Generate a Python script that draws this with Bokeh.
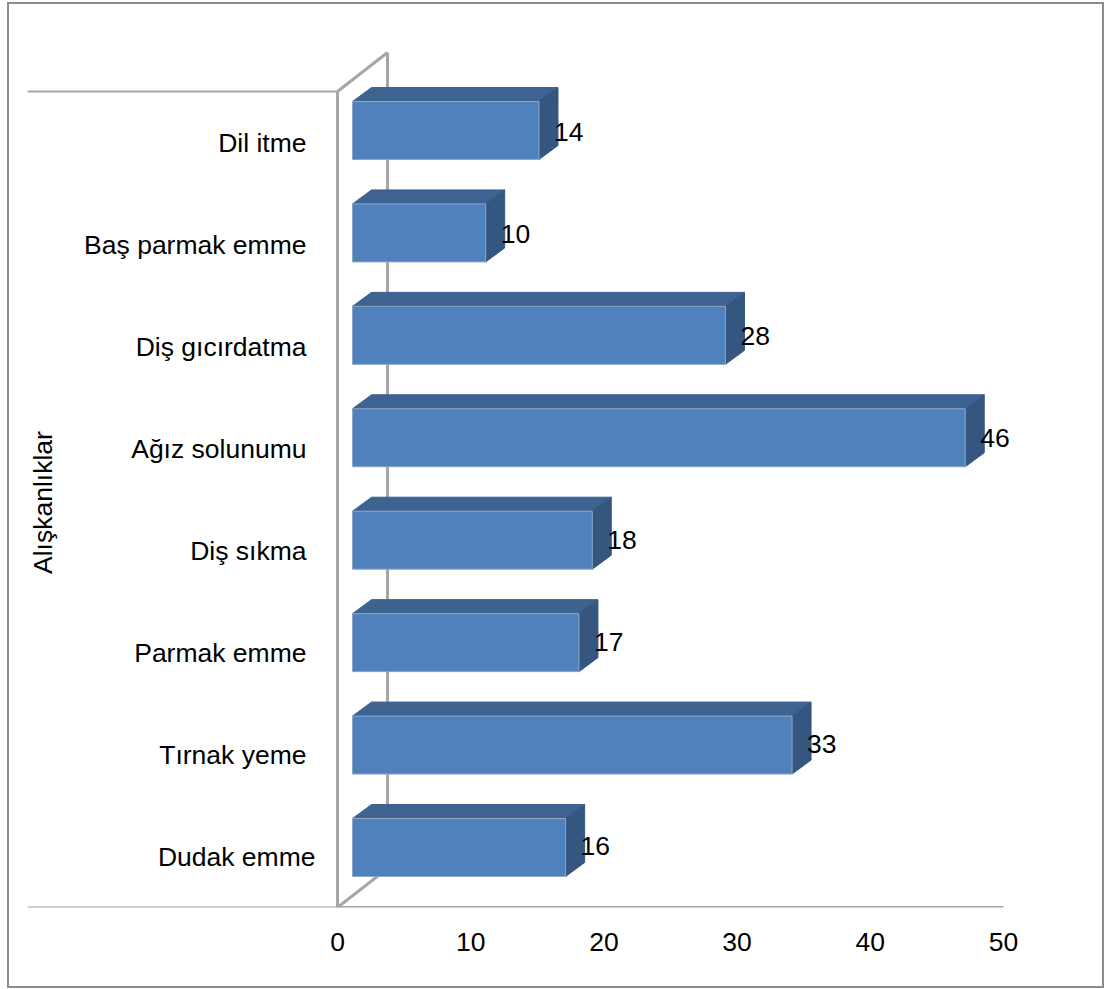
from bokeh.embed import file_html
from bokeh.resources import INLINE
from bokeh.core.properties import value
from bokeh.models import ColumnDataSource, FixedTicker, InlineStyleSheet, Range1d
from bokeh.plotting import figure

categories = ["Dudak emme", "Tırnak yeme", "Parmak emme", "Diş sıkma",
              "Ağız solunumu", "Diş gıcırdatma", "Baş parmak emme", "Dil itme"]
counts = [16, 33, 17, 18, 46, 28, 10, 14]
x_ticks = [0, 10, 20, 30, 40, 50]
axis_title = "Alışkanlıklar"

FONT = "Liberation Sans"
FONT_SIZE = "26.5px"
WALL = "#A6A6A6"
FRONT = "#4F81BD"
TOP = "#3E6390"
SIDE = "#34567F"

PX_PER_UNIT = 13.32      # horizontal pixels per count
PX_PER_SLOT = 102.0      # vertical pixels per category
FLOOR_PX = 907
WIDTH, HEIGHT = 1105, 989

# oblique projection of the 3D box
wall_dx, wall_dy = 50 / PX_PER_UNIT, 39 / PX_PER_SLOT
bar_start = 15 / PX_PER_UNIT
bar_dx, bar_dy = 19 / PX_PER_UNIT, 14 / PX_PER_SLOT
bar_half = 29 / PX_PER_SLOT
bar_lift = 9 / PX_PER_SLOT
bar_step = 102.43 / PX_PER_SLOT
n = len(categories)
axis_max = x_ticks[-1]
left_rule = -310 / PX_PER_UNIT

# outer chart frame, drawn over the whole figure including the axis panel
frame_css = InlineStyleSheet(css="""
:host::after {
  content: "";
  position: absolute;
  left: 7px; top: 2px; width: 1097px; height: 986px;
  box-sizing: border-box;
  border: 2px solid #8C8C8C;
  pointer-events: none;
}
""")

p = figure(width=WIDTH, height=HEIGHT, output_backend="svg", toolbar_location=None,
           x_range=Range1d(-337 / PX_PER_UNIT, (WIDTH - 337) / PX_PER_UNIT),
           y_range=Range1d(0, FLOOR_PX / PX_PER_SLOT),
           min_border_left=0, min_border_right=0, min_border_top=0,
           min_border_bottom=HEIGHT - FLOOR_PX, outline_line_color=None,
           stylesheets=[frame_css])
p.grid.visible = False
p.yaxis.visible = False

ax = p.xaxis[0]
ax.ticker = FixedTicker(ticks=x_ticks)
ax.axis_line_color = None
ax.major_tick_line_color = None
ax.minor_tick_line_color = None
ax.major_label_standoff = 19
ax.major_label_text_font = FONT
ax.major_label_text_font_size = FONT_SIZE
ax.major_label_text_color = "#000000"

# rules running left of the box
p.multi_line(xs=[[left_rule, 0], [left_rule, 0]], ys=[[n, n], [0, 0]],
             line_color=WALL, line_width=2)

# walls and floor of the 3D box
p.multi_line(
    xs=[[0, 0], [0, wall_dx], [wall_dx, wall_dx], [0, wall_dx], [0, axis_max]],
    ys=[[0, n], [n, n + wall_dy], [wall_dy, n + wall_dy], [0, wall_dy], [0, 0]],
    line_color=WALL, line_width=3)

# bar faces
ys = [0.5 + bar_lift + i * bar_step for i in range(n)]
ends = [bar_start + c for c in counts]
p.patches(
    xs=[[bar_start, e, e + bar_dx, bar_start + bar_dx] for e in ends],
    ys=[[y + bar_half, y + bar_half, y + bar_half + bar_dy, y + bar_half + bar_dy] for y in ys],
    fill_color=TOP, line_color=TOP)
p.patches(
    xs=[[e, e + bar_dx, e + bar_dx, e] for e in ends],
    ys=[[y - bar_half, y - bar_half + bar_dy, y + bar_half + bar_dy, y + bar_half] for y in ys],
    fill_color=SIDE, line_color=SIDE)
p.quad(left=bar_start, right=ends, bottom=[y - bar_half for y in ys],
       top=[y + bar_half for y in ys], fill_color=FRONT, line_color="#8FA6C4", line_width=1)

# value labels beside each bar, spaced by whole category slots
value_y = [0.5 + bar_lift + i for i in range(n)]
value_src = ColumnDataSource(dict(x=ends, y=value_y, t=[str(c) for c in counts]))
p.text(x="x", y="y", text="t", source=value_src, x_offset=15, y_offset=-2,
       text_align="left", text_baseline="middle",
       text_font=value(FONT), text_font_size=value(FONT_SIZE), text_color="#000000")

# category labels, with the bottom one sitting a little closer to the wall
label_x = [(-31 if c != "Dudak emme" else -22) / PX_PER_UNIT for c in categories]
label_src = ColumnDataSource(dict(x=label_x, y=[i + 0.5 for i in range(n)], t=categories))
p.text(x="x", y="y", text="t", source=label_src, text_align="right", text_baseline="middle",
       text_font=value(FONT), text_font_size=value(FONT_SIZE), text_color="#000000")

# vertical axis title
p.text(x=[-295 / PX_PER_UNIT], y=[n / 2 - 0.03], text=[axis_title], angle=90, angle_units="deg",
       text_align="center", text_baseline="middle",
       text_font=value(FONT), text_font_size=value(FONT_SIZE), text_color="#000000")

open("out.html", "w").write(file_html(p, INLINE))
